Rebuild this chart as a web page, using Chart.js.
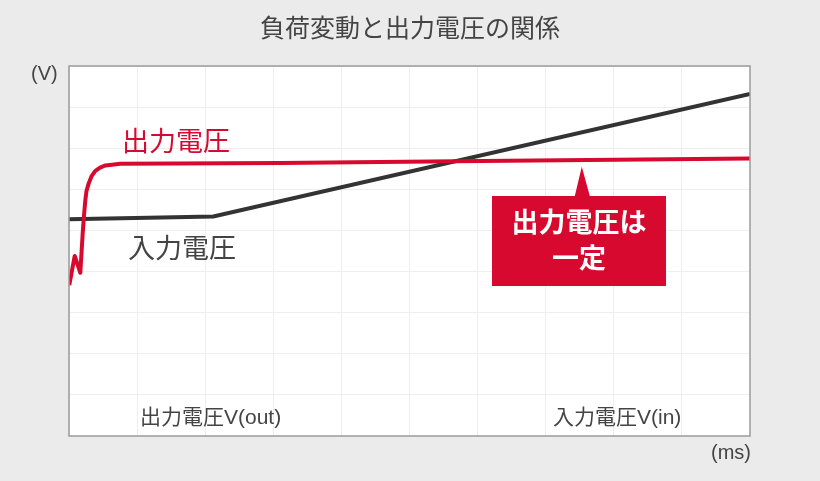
<!DOCTYPE html>
<html lang="ja">
<head>
<meta charset="utf-8">
<title>負荷変動と出力電圧の関係</title>
<script src="https://cdn.jsdelivr.net/npm/chart.js@4.4.1/dist/chart.umd.min.js"></script>
<style>
    html, body { margin: 0; padding: 0; background: #ebebeb; }
    #wrap { width: 820px; height: 481px; position: relative; }
</style>
</head>
<body>
<div id="wrap"><canvas id="canvasChart" width="820" height="481"></canvas></div>
<script>
// valeurs (x en ms, y en V, unités de grille)
const sortieX = [0.004, 0.084, 0.166, 0.201, 0.221, 0.240, 0.257, 0.290, 0.331, 0.387, 0.456, 0.534, 0.632, 0.75, 3.1, 6.04, 10]
const sortieY = [3.67, 4.38, 3.97, 4.93, 5.38, 5.74, 5.96, 6.15, 6.32, 6.45, 6.53, 6.58, 6.60, 6.62, 6.64, 6.69, 6.75]
const entreeX = [0, 2.12, 10]
const entreeY = [5.27, 5.34, 8.32]

const titre = "負荷変動と出力電圧の関係"
const labelSortie = "出力電圧"
const labelEntree = "入力電圧"
const legendeSortie = "出力電圧V(out)"
const legendeEntree = "入力電圧V(in)"
const bulleLignes = ["出力電圧は", "一定"]
const axeY = "(V)"
const axeX = "(ms)"

const rouge = "#d7092f"
const gris = "#333333"
const police = '"Liberation Sans", "Noto Sans CJK JP", sans-serif'

function points(xs, ys) {
    return xs.map((x, i) => ({x: x, y: ys[i]}))
}

// fond blanc + cadre + textes
const decor = {
    id: "decor",
    beforeDraw(chart) {
        let ctx = chart.ctx
        let a = chart.chartArea
        ctx.save()
        ctx.fillStyle = "#ebebeb"
        ctx.fillRect(0, 0, chart.width, chart.height)
        ctx.fillStyle = "#ffffff"
        ctx.fillRect(a.left, a.top, a.right - a.left, a.bottom - a.top)
        ctx.restore()
    },
    afterDraw(chart) {
        let ctx = chart.ctx
        let a = chart.chartArea
        let sx = chart.scales.x
        let sy = chart.scales.y
        ctx.save()
        ctx.strokeStyle = "#9a9a9a"
        ctx.lineWidth = 1.5
        ctx.strokeRect(a.left, a.top, a.right - a.left, a.bottom - a.top)

        ctx.textBaseline = "middle"
        ctx.fillStyle = "#444444"
        ctx.textAlign = "center"
        ctx.font = "25px " + police
        ctx.fillText(titre, 410, 30)

        ctx.textAlign = "left"
        ctx.font = "20px " + police
        ctx.fillText(axeY, 31, 74)
        ctx.fillText(axeX, 711, 453)

        ctx.font = "21px " + police
        ctx.fillText(legendeSortie, 140, 418)
        ctx.fillText(legendeEntree, 553, 418)

        ctx.font = "27px " + police
        ctx.fillStyle = rouge
        ctx.fillText(labelSortie, 122, 144)
        ctx.fillStyle = "#444444"
        ctx.fillText(labelEntree, 128, 251)

        // bulle rouge
        let tipX = sx.getPixelForValue(7.53)
        let tipY = sy.getPixelForValue(6.72) + 7
        ctx.fillStyle = rouge
        ctx.beginPath()
        ctx.moveTo(tipX, tipY)
        ctx.lineTo(tipX + 8, 196)
        ctx.lineTo(666, 196)
        ctx.lineTo(666, 286)
        ctx.lineTo(492, 286)
        ctx.lineTo(492, 196)
        ctx.lineTo(tipX - 7, 196)
        ctx.closePath()
        ctx.fill()
        ctx.fillStyle = "#ffffff"
        ctx.textAlign = "center"
        ctx.font = "bold 27px " + police
        ctx.fillText(bulleLignes[0], 579, 225)
        ctx.fillText(bulleLignes[1], 579, 261)
        ctx.restore()
    }
}

new Chart(document.getElementById("canvasChart"), {
    type: "line",
    data: {
        datasets: [
            {
                label: labelEntree,
                data: points(entreeX, entreeY),
                borderColor: gris,
                borderWidth: 4,
                pointRadius: 0,
                tension: 0,
                order: 2
            },
            {
                label: labelSortie,
                data: points(sortieX, sortieY),
                borderColor: rouge,
                borderWidth: 4,
                pointRadius: 0,
                tension: 0,
                borderJoinStyle: "round",
                order: 1
            }
        ]
    },
    options: {
        responsive: false,
        animation: false,
        layout: { padding: { left: 69, top: 66, right: 70, bottom: 45 } },
        plugins: {
            legend: { display: false },
            tooltip: { enabled: false }
        },
        scales: {
            x: {
                type: "linear",
                min: 0,
                max: 10,
                ticks: { display: false, stepSize: 1 },
                grid: { color: "#eeeeee", drawTicks: false },
                border: { display: false }
            },
            y: {
                type: "linear",
                min: 0,
                max: 9,
                ticks: { display: false, stepSize: 1 },
                grid: { color: "#eeeeee", drawTicks: false },
                border: { display: false }
            }
        }
    },
    plugins: [decor]
})
</script>
</body>
</html>
